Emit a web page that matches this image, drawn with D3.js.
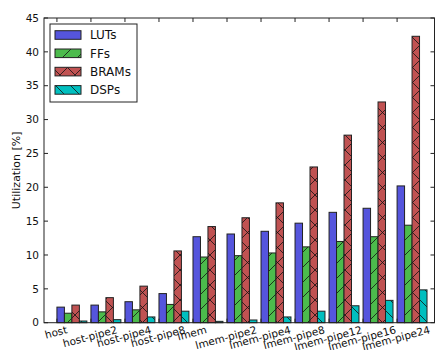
<!DOCTYPE html>
<html>
<head>
<meta charset="utf-8">
<script src="https://cdn.jsdelivr.net/npm/d3@7"></script>
<style>
  html, body { margin: 0; padding: 0; background: #fff; }
  svg { display: block; font-family: "DejaVu Sans", sans-serif; }
</style>
</head>
<body>
<svg id="chart" width="435" height="350"></svg>
<script>
// Resource utilization per design variant
const categories = ["host", "host-pipe2", "host-pipe4", "host-pipe8", "lmem", "lmem-pipe2",
  "lmem-pipe4", "lmem-pipe8", "lmem-pipe12", "lmem-pipe16", "lmem-pipe24"];
const luts  = [2.3, 2.6, 3.1, 4.3, 12.7, 13.1, 13.5, 14.7, 16.3, 16.9, 20.2];
const ffs   = [1.4, 1.6, 1.9, 2.7, 9.7, 9.9, 10.3, 11.2, 12.0, 12.7, 14.4];
const brams = [2.6, 3.7, 5.4, 10.6, 14.2, 15.5, 17.7, 23.0, 27.7, 32.6, 42.3];
const dsps  = [0.25, 0.45, 0.85, 1.7, 0.2, 0.4, 0.85, 1.7, 2.5, 3.3, 4.85];
const seriesNames = ["LUTs", "FFs", "BRAMs", "DSPs"];
const yTicks = [0, 5, 10, 15, 20, 25, 30, 35, 40, 45];

const series = [
  { name: seriesNames[0], values: luts,  color: "#5555dd", hatch: null },
  { name: seriesNames[1], values: ffs,   color: "#4cbb4c", hatch: "fwd" },
  { name: seriesNames[2], values: brams, color: "#c05252", hatch: "cross" },
  { name: seriesNames[3], values: dsps,  color: "#00bfbf", hatch: "back" }
];

const svg = d3.select("#chart");
const plotL = 44, plotR = 434.5, plotT = 18, plotB = 322.7;
const barW = 0.22;

const x = d3.scaleLinear().domain([-0.38, 11.1]).range([plotL, plotR]);
const y = d3.scaleLinear().domain([0, 45]).range([plotB, plotT]);

// hatch patterns
const defs = svg.append("defs");
const S = 15;
function makePattern(id, color, kind) {
  const p = defs.append("pattern").attr("id", id)
    .attr("patternUnits", "userSpaceOnUse").attr("width", S).attr("height", S);
  p.append("rect").attr("width", S).attr("height", S).attr("fill", color);
  const ln = (x1, y1, x2, y2) => p.append("line")
    .attr("x1", x1).attr("y1", y1).attr("x2", x2).attr("y2", y2)
    .attr("stroke", "#111").attr("stroke-width", 0.8);
  if (kind === "fwd" || kind === "cross") {
    ln(-1, S + 1, S + 1, -1); ln(-1, 1, 1, -1); ln(S - 1, S + 1, S + 1, S - 1);
  }
  if (kind === "back" || kind === "cross") {
    ln(-1, -1, S + 1, S + 1); ln(S - 1, -1, S + 1, 1); ln(-1, S - 1, 1, S + 1);
  }
}
series.forEach((s, k) => {
  s.fill = s.hatch ? `url(#hatch${k})` : s.color;
  if (s.hatch) makePattern(`hatch${k}`, s.color, s.hatch);
});

// bars
series.forEach((s, k) => {
  svg.append("g").selectAll("rect").data(s.values).join("rect")
    .attr("x", (d, i) => x(i + k * barW))
    .attr("width", x(barW) - x(0))
    .attr("y", d => y(d))
    .attr("height", d => y(0) - y(d))
    .attr("fill", s.fill)
    .attr("stroke", "#222").attr("stroke-width", 1);
});

// frame
const axisColor = "#222";
svg.append("rect").attr("x", plotL).attr("y", plotT)
  .attr("width", plotR - plotL).attr("height", plotB - plotT)
  .attr("fill", "none").attr("stroke", axisColor).attr("stroke-width", 1);

// y ticks (inward on both sides) and labels
const yt = svg.append("g");
yTicks.forEach(t => {
  yt.append("line").attr("x1", plotL).attr("x2", plotL + 4).attr("y1", y(t)).attr("y2", y(t))
    .attr("stroke", axisColor);
  yt.append("line").attr("x1", plotR).attr("x2", plotR - 4).attr("y1", y(t)).attr("y2", y(t))
    .attr("stroke", axisColor);
  yt.append("text").attr("x", plotL - 5).attr("y", y(t)).attr("dy", "0.36em")
    .attr("text-anchor", "end").attr("font-size", 10.5).attr("fill", "#111").text(t);
});

// x ticks (inward top and bottom) and rotated labels
const xt = svg.append("g");
const sin15 = Math.sin(15 * Math.PI / 180);
categories.forEach((c, i) => {
  const cx = x(i);
  xt.append("line").attr("x1", cx).attr("x2", cx).attr("y1", plotT).attr("y2", plotT + 4).attr("stroke", axisColor);
  xt.append("line").attr("x1", cx).attr("x2", cx).attr("y1", plotB).attr("y2", plotB - 4).attr("stroke", axisColor);
  const t = xt.append("text").attr("text-anchor", "middle").attr("font-size", 10.5)
    .attr("fill", "#111").text(c);
  const w = t.node().getComputedTextLength();
  const by = 325.5 + (w / 2) * sin15 + 7.4;
  t.attr("transform", `translate(${cx},${by}) rotate(-15)`);
});

// y axis title
svg.append("text").attr("transform", `translate(20,${(plotT + plotB) / 2}) rotate(-90)`)
  .attr("text-anchor", "middle").attr("font-size", 11).attr("fill", "#111")
  .text("Utilization [%]");

// legend
const lg = svg.append("g");
lg.append("rect").attr("x", 50).attr("y", 24).attr("width", 87).attr("height", 78)
  .attr("fill", "#fff").attr("stroke", axisColor).attr("stroke-width", 1);
series.forEach((s, k) => {
  const cy = 35 + k * 18.3;
  lg.append("rect").attr("x", 55).attr("y", cy - 4.3).attr("width", 26).attr("height", 8.6)
    .attr("fill", s.fill).attr("stroke", "#222").attr("stroke-width", 1);
  lg.append("text").attr("x", 90).attr("y", cy).attr("dy", "0.36em")
    .attr("font-size", 12).attr("fill", "#111").text(s.name);
});
</script>
</body>
</html>
